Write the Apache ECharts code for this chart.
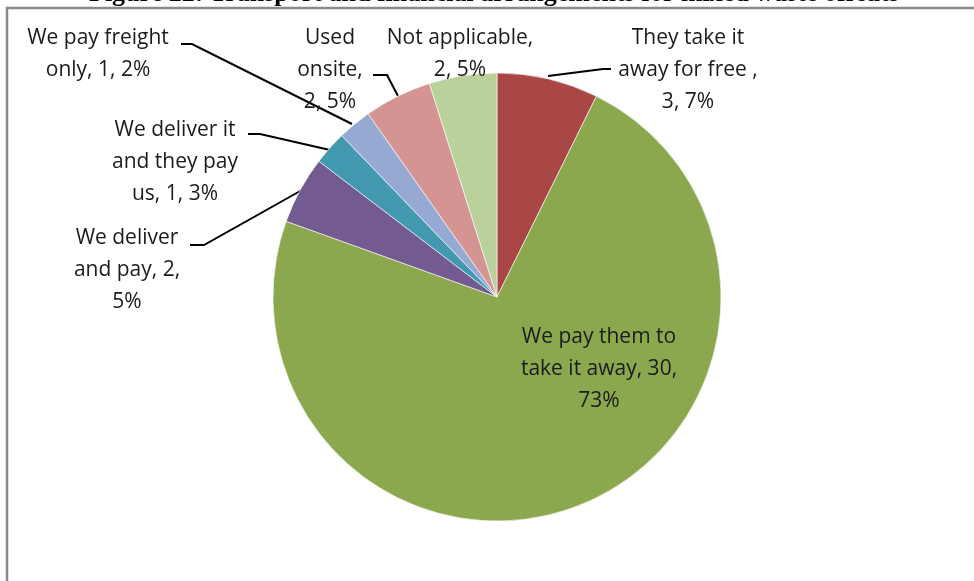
<!DOCTYPE html>
<html>
<head>
<meta charset="utf-8">
<script src="https://cdn.jsdelivr.net/npm/echarts@6/dist/echarts.min.js"></script>
<style>
  html, body { margin: 0; padding: 0; background: #fff; }
  #chart { width: 974px; height: 581px; }
</style>
</head>
<body>
<div id="chart"></div>
<script>
// Responses on how mixed waste offcuts are transported and paid for
const categories = [
  'They take it\naway for free ',
  'We pay them to\ntake it away',
  'We deliver\nand pay',
  'We deliver it\nand they pay\nus',
  'We pay freight\nonly',
  'Used\nonsite',
  'Not applicable'
];
const counts = [3, 30, 2, 1, 1, 2, 2];
const percentLabels = ['7%', '73%', '5%', '3%', '2%', '5%', '5%'];
const sliceColors = ['#A84745', '#8BA84F', '#735A91', '#4399B0', '#95A9D3', '#D49492', '#BBD19B'];

const titleText = 'Figure 22: Transport and financial arrangements for mixed waste offcuts';

// separators placed after the name and after the count in each label
const separators = [
  [',\n', ', '],
  [', ', ',\n'],
  [', ', ',\n'],
  [', ', ', '],
  [', ', ', '],
  [',\n', ', '],
  [',\n', ', ']
];

// label anchor (centre of text block) and leader line for each slice
const labelPlacement = [
  { x: 688, y: 70, line: [[548, 76], [603, 69], [611, 69]] },
  { x: 599, y: 369, line: null },
  { x: 127, y: 270, line: [[302, 190], [204, 245], [190, 245]] },
  { x: 175, y: 162, line: [[330, 150], [260, 134], [248, 134]] },
  { x: 98, y: 54, line: [[352, 124], [192, 44], [181, 44]] },
  { x: 330, y: 70, line: [[398, 96], [387, 75], [373, 75]] },
  { x: 460, y: 54, line: null }
];

const chart = echarts.init(document.getElementById('chart'), null, { renderer: 'canvas' });

const data = categories.map((name, i) => ({
  name: name,
  value: counts[i],
  itemStyle: { color: sliceColors[i] },
  labelLine: { show: !!labelPlacement[i].line }
}));

chart.setOption({
  backgroundColor: '#ffffff',
  animation: false,
  graphic: [
    {
      type: 'rect',
      shape: { x: 7, y: 8, width: 1200, height: 900 },
      style: { fill: 'none', stroke: '#8a8a8a', lineWidth: 2.5 },
      z: 0
    },
    {
      type: 'text',
      x: 494,
      y: 7,
      style: {
        text: titleText,
        font: 'bold 26px "Liberation Serif", "Times New Roman", serif',
        fill: '#000',
        textAlign: 'center',
        textVerticalAlign: 'bottom'
      },
      z: 1
    }
  ],
  series: [
    {
      type: 'pie',
      center: [497, 297],
      radius: 224,
      startAngle: 90,
      clockwise: true,
      avoidLabelOverlap: false,
      itemStyle: { borderColor: '#ffffff', borderWidth: 0.6 },
      label: {
        show: true,
        position: 'outside',
        color: '#1b1b1b',
        fontFamily: '"Open Sans", sans-serif',
        fontSize: 21,
        lineHeight: 32,
        align: 'center',
        formatter: p => {
          const s = separators[p.dataIndex];
          return p.name + s[0] + p.value + s[1] + percentLabels[p.dataIndex];
        }
      },
      labelLine: {
        show: true,
        lineStyle: { color: '#000', width: 2 }
      },
      labelLayout: params => {
        const pl = labelPlacement[params.dataIndex];
        const out = { x: pl.x, y: pl.y, align: 'center', verticalAlign: 'middle' };
        if (pl.line) out.labelLinePoints = pl.line;
        return out;
      },
      data: data
    }
  ]
});
</script>
</body>
</html>
